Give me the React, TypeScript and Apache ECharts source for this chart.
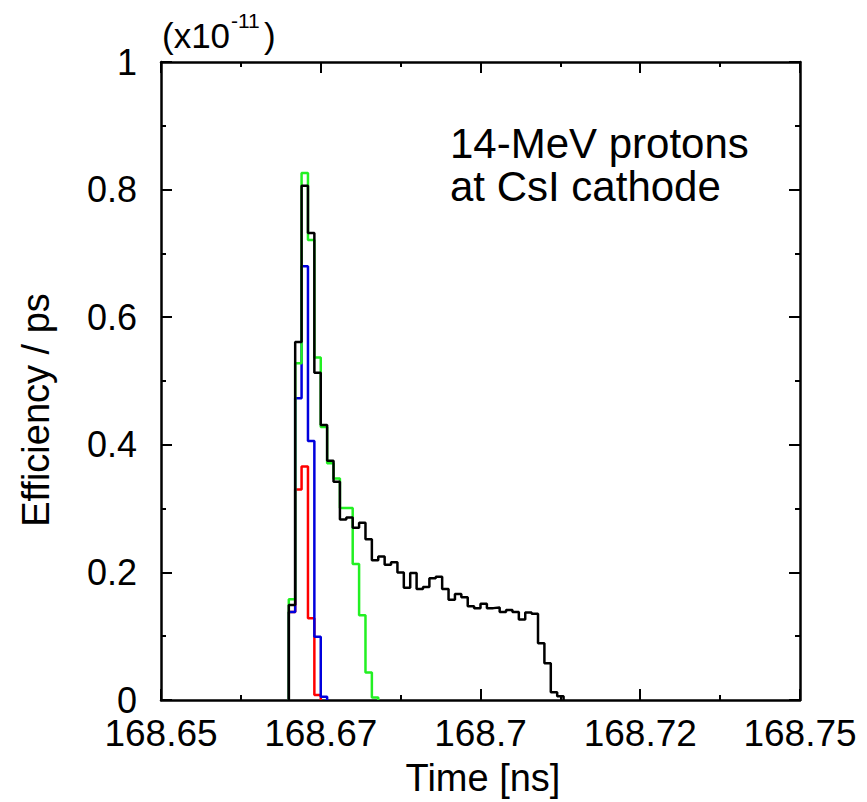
import React, { useEffect, useRef } from "react";
import * as echarts from "echarts";

// Histogram bins: width 0.001 ns, starting at bin index FIRST_BIN from X_MIN
const X_MIN = 168.65;
const X_MAX = 168.75;
const BIN_WIDTH = 0.001;
const FIRST_BIN = 20; // first bin starts at 168.670 ns

const xTickLabels = ["168.65", "168.67", "168.7", "168.72", "168.75"];
const yTickLabels = ["0", "0.2", "0.4", "0.6", "0.8", "1"];

// values in units of 1e-11 per ps
const redValues = [0.138, 0.33, 0.366, 0.128, 0.008];
const blueValues = [0.138, 0.473, 0.68, 0.406, 0.099, 0.005];
const greenValues = [
  0.158, 0.528, 0.826, 0.721, 0.537, 0.428, 0.371, 0.347, 0.301, 0.301, 0.213,
  0.133, 0.043, 0.004,
];
const blackValues = [
  0.149, 0.561, 0.806, 0.732, 0.513, 0.431, 0.375, 0.342, 0.283, 0.286, 0.27,
  0.278, 0.252, 0.219, 0.225, 0.212, 0.216, 0.2, 0.176, 0.199, 0.174, 0.177,
  0.191, 0.193, 0.174, 0.157, 0.166, 0.161, 0.147, 0.144, 0.151, 0.144, 0.145,
  0.138, 0.141, 0.138, 0.126, 0.137, 0.135, 0.089, 0.0575, 0.012, 0.006,
];

const binEdge = (k: number) => +(X_MIN + k * BIN_WIDTH).toFixed(4);

function histPoints(values: number[]): [number, number][] {
  const pts: [number, number][] = [[binEdge(FIRST_BIN), 0]];
  values.forEach((v, i) => pts.push([binEdge(FIRST_BIN + i), v]));
  pts.push([binEdge(FIRST_BIN + values.length), 0]);
  return pts;
}

const FONT = "'Liberation Sans', Arial, Helvetica, sans-serif";

export default function App() {
  const ref = useRef<HTMLDivElement>(null);
  useEffect(() => {
    if (!ref.current) return;
    const chart = echarts.init(ref.current, undefined, { renderer: "svg" });
    const axisLine = { show: true, onZero: false, lineStyle: { color: "#000", width: 2.5 } };
    const axisTick = { show: true, inside: true, length: 11, lineStyle: { color: "#000", width: 2 } };
    const minorTick = { show: true, splitNumber: 2, length: 5, lineStyle: { color: "#000", width: 2 } };
    const xBase = {
      type: "value" as const,
      min: X_MIN,
      max: X_MAX,
      interval: 0.025,
      axisLine,
      axisTick,
      minorTick,
      splitLine: { show: false },
    };
    const yBase = {
      type: "value" as const,
      min: 0,
      max: 1,
      interval: 0.2,
      axisLine,
      axisTick,
      minorTick,
      splitLine: { show: false },
    };
    const mk = (name: string, values: number[], color: string) => ({
      name,
      type: "line" as const,
      step: "end" as const,
      data: histPoints(values),
      showSymbol: false,
      symbol: "none",
      lineStyle: { color, width: 2.5 },
      xAxisIndex: 0,
      yAxisIndex: 0,
    });
    chart.setOption({
      animation: false,
      backgroundColor: "#fff",
      grid: { left: 161, top: 62, width: 639, height: 638 },
      xAxis: [
        {
          ...xBase,
          position: "bottom",
          axisLabel: {
            show: true,
            margin: 18,
            fontSize: 37,
            lineHeight: 30,
            fontFamily: FONT,
            color: "#000",
            formatter: (v: number) =>
              xTickLabels[Math.round((v - X_MIN) / 0.025)] ?? "",
          },
        },
        { ...xBase, position: "top", axisLabel: { show: false } },
      ],
      yAxis: [
        {
          ...yBase,
          position: "left",
          axisLabel: {
            show: true,
            margin: 24,
            fontSize: 36,
            lineHeight: 28,
            fontFamily: FONT,
            color: "#000",
            formatter: (v: number) => yTickLabels[Math.round(v / 0.2)] ?? "",
          },
        },
        { ...yBase, position: "right", axisLabel: { show: false } },
      ],
      series: [
        mk("red", redValues, "#ff0000"),
        mk("blue", blueValues, "#0000dd"),
        mk("green", greenValues, "#22f022"),
        mk("black", blackValues, "#000000"),
      ],
      graphic: [
        {
          type: "text",
          x: 162,
          y: 35,
          style: { text: "(x10", font: `35px ${FONT}`, fill: "#000", textVerticalAlign: "middle" },
        },
        {
          type: "text",
          x: 231,
          y: 20,
          style: { text: "-11", font: `21px ${FONT}`, fill: "#000", textVerticalAlign: "middle" },
        },
        {
          type: "text",
          x: 264,
          y: 35,
          style: { text: ")", font: `35px ${FONT}`, fill: "#000", textVerticalAlign: "middle" },
        },
        {
          type: "text",
          x: 450,
          y: 143,
          style: { text: "14-MeV protons", font: `42px ${FONT}`, fill: "#000", textVerticalAlign: "middle" },
        },
        {
          type: "text",
          x: 450,
          y: 186,
          style: { text: "at CsI cathode", font: `42px ${FONT}`, fill: "#000", textVerticalAlign: "middle" },
        },
        {
          type: "text",
          x: 483,
          y: 778,
          style: { text: "Time [ns]", font: `38px ${FONT}`, fill: "#000", textAlign: "center", textVerticalAlign: "middle" },
        },
        {
          type: "text",
          x: 36,
          y: 410,
          rotation: Math.PI / 2,
          style: { text: "Efficiency / ps", font: `38px ${FONT}`, fill: "#000", textAlign: "center", textVerticalAlign: "middle" },
        },
      ],
    });
    return () => chart.dispose();
  }, []);
  return (
    <div
      ref={ref}
      style={{ position: "fixed", left: 0, top: 0, width: 867, height: 802 }}
    />
  );
}
